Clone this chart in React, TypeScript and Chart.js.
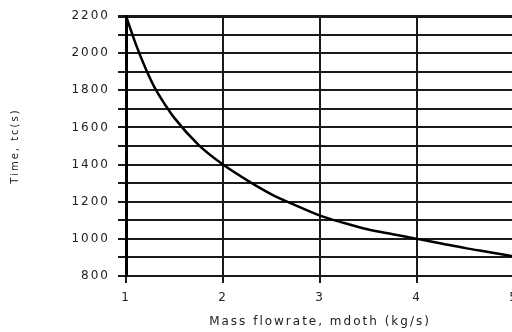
import React, { useEffect, useRef } from "react";
import { Chart, registerables } from "chart.js";

Chart.register(...registerables);

const massFlow = [1.0, 1.1, 1.2, 1.3, 1.4, 1.5, 1.75, 2.0, 2.25, 2.5, 2.75, 3.0, 3.25, 3.5, 3.75, 4.0, 4.25, 4.5, 4.75, 5.0];
const timeTc = [2200, 2050, 1920, 1810, 1725, 1650, 1505, 1400, 1315, 1240, 1180, 1125, 1085, 1050, 1025, 1000, 975, 950, 928, 905];
const xTitle = "Mass flowrate, mdoth (kg/s)";
const yTitle = "Time, tc(s)";

const spacingPlugin = {
  id: "spacing",
  beforeUpdate(chart: any) {
    chart.ctx.letterSpacing = "2px";
  },
  beforeDraw(chart: any) {
    chart.ctx.letterSpacing = "2px";
  },
};

export default function App() {
  const ref = useRef<HTMLCanvasElement>(null);
  useEffect(() => {
    if (!ref.current) return;
    const chart = new Chart(ref.current, {
      type: "line",
      data: {
        datasets: [
          {
            data: massFlow.map((m, i) => ({ x: m, y: timeTc[i] })),
            borderColor: "#000",
            borderWidth: 2.5,
            pointRadius: 0,
            cubicInterpolationMode: "monotone",
            fill: false,
          },
        ],
      },
      options: {
        animation: false,
        responsive: false,
        devicePixelRatio: 1,
        layout: { padding: { top: 16, right: 26, left: 0, bottom: 0 } },
        plugins: { legend: { display: false }, tooltip: { enabled: false } },
        scales: {
          x: {
            type: "linear",
            min: 1,
            max: 5,
            ticks: {
              stepSize: 1,
              padding: 8,
              color: "#222",
              font: { family: "DejaVu Sans", size: 12 },
              maxRotation: 0,
              autoSkip: false,
            },
            grid: { color: "#1a1a1a", lineWidth: 2, tickLength: 7 },
            border: { display: true, color: "#1a1a1a", width: 2 },
            title: {
              display: true,
              text: xTitle,
              color: "#222",
              font: { family: "DejaVu Sans", size: 12 },
              padding: { top: 0, bottom: 3 },
            },
            afterFit: (s: any) => {
              s.height = 56;
            },
          },
          y: {
            min: 800,
            max: 2200,
            ticks: {
              stepSize: 100,
              padding: 8,
              autoSkip: false,
              color: "#222",
              font: { family: "DejaVu Sans", size: 12 },
              callback: (v: any) => (Number(v) % 200 === 0 ? String(v) : ""),
            },
            grid: {
              color: "#1a1a1a",
              lineWidth: (c: any) => (c.tick && c.tick.value === 2200 ? 3 : 2),
              tickLength: 8,
            },
            border: { display: true, color: "#000", width: 3 },
            title: {
              display: true,
              text: yTitle,
              color: "#222",
              font: { family: "DejaVu Sans", size: 10 },
              padding: { top: 9, bottom: 0 },
            },
            afterFit: (s: any) => {
              s.width = 126;
              s.paddingTop = 8;
              s.paddingBottom = 8;
            },
          },
        },
      },
      plugins: [spacingPlugin],
    } as any);
    return () => chart.destroy();
  }, []);
  return (
    <div
      style={{
        position: "fixed",
        left: 0,
        top: 0,
        width: 512,
        height: 332,
        overflow: "hidden",
        background: "#fff",
      }}
    >
      <canvas ref={ref} width={540} height={332} style={{ width: 540, height: 332, display: "block" }} />
    </div>
  );
}
